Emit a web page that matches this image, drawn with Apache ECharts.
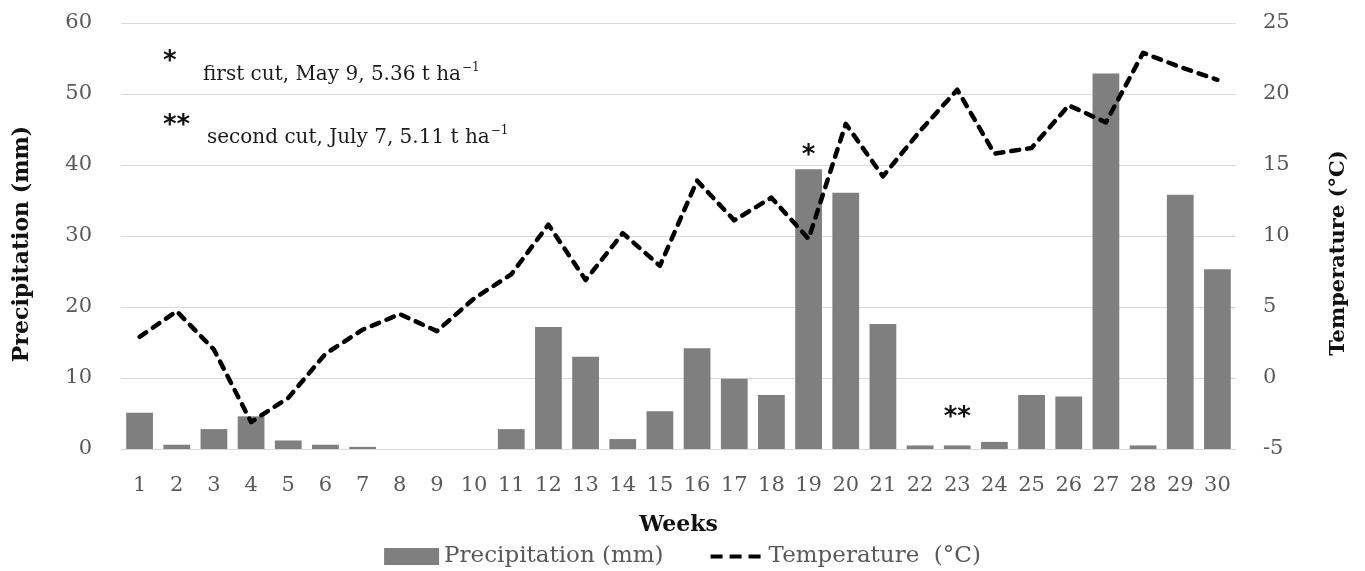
<!DOCTYPE html>
<html><head><meta charset="utf-8">
<script src="https://cdn.jsdelivr.net/npm/echarts@6/dist/echarts.min.js"></script>
<style>html,body{margin:0;padding:0;background:#fff}#c{width:1365px;height:571px}</style>
</head><body><div id="c"></div>
<script>
const weeks = ['1','2','3','4','5','6','7','8','9','10','11','12','13','14','15','16','17','18','19','20','21','22','23','24','25','26','27','28','29','30'];
const precipitation = [5.1,0.6,2.8,4.6,1.2,0.6,0.3,0,0,0,2.8,17.2,13.0,1.4,5.3,14.2,9.9,7.6,39.4,36.1,17.6,0.5,0.5,1.0,7.6,7.4,52.9,0.5,35.8,25.3];
const temperature = [2.9,4.7,2.0,-3.1,-1.4,1.7,3.4,4.5,3.3,5.6,7.3,10.8,6.9,10.2,7.9,13.9,11.1,12.7,9.8,17.9,14.2,17.4,20.3,15.8,16.2,19.2,18.0,22.9,21.9,21.0];
const cutMarks = {'19':'*','23':'**'};
const cutNotes = [
  {mark:'*', text:'first cut, May 9, 5.36 t ha', sup:'\u22121'},
  {mark:'**', text:'second cut, July 7, 5.11 t ha', sup:'\u22121'}
];
const precipTicks = {min:0, max:60, interval:10};
const tempTicks = {min:-5, max:25, interval:5};

const FONT = 'DejaVu Serif';
const chart = echarts.init(document.getElementById('c'));

const barData = precipitation.map((v,i)=>{
  const m = cutMarks[weeks[i]];
  if (!m) return v;
  return {value:v, label:{show:true, position:'top', formatter:m,
    distance: m==='**' ? 14 : 0,
    fontFamily:'DejaVu Sans', fontWeight:'bold', fontSize:26, color:'#111'}};
});

const noteY = [62, 126];
const graphics = [];
cutNotes.forEach((n,k)=>{
  graphics.push({type:'text', x:163, y:noteY[k], style:{text:n.mark, fontFamily:'DejaVu Sans', fontWeight:'bold', fontSize:26, fill:'#111', verticalAlign:'middle'}});
  graphics.push({type:'text', x: k===0?203:207, y:noteY[k]+ (k===0?13:12), style:{
    text:'{a|'+n.text+'}{s|'+n.sup+'}',
    verticalAlign:'middle',
    rich:{a:{fontFamily:FONT, fontSize:20, fill:'#1a1a1a'}, s:{fontFamily:FONT, fontSize:12, fill:'#1a1a1a', padding:[0,0,14,1]}}
  }});
});

const dashIcon = 'path://M0,0M55,17M2,6.5L14,6.5L14,10.5L2,10.5ZM21,6.5L33,6.5L33,10.5L21,10.5ZM40,6.5L52,6.5L52,10.5L40,10.5Z';

chart.setOption({
  animation:false,
  grid:{left:121, right:129, top:23, bottom:122},
  legend:{
    left:'center', bottom:-2, itemWidth:55, itemHeight:17, itemGap:45,
    textStyle:{fontFamily:FONT, fontSize:23, color:'#595959'},
    data:[
      {name:'Precipitation (mm)', icon:'rect'},
      {name:'Temperature  (\u00B0C)', icon:dashIcon, itemStyle:{color:'#000', borderWidth:0}}
    ]
  },
  xAxis:{
    type:'category', data:weeks, boundaryGap:true,
    axisLine:{lineStyle:{color:'#d9d9d9', width:1}}, axisTick:{show:false},
    axisLabel:{fontFamily:FONT, fontSize:21, color:'#595959', margin:26, interval:0},
    name:'Weeks', nameLocation:'middle', nameGap:65,
    nameTextStyle:{fontFamily:FONT, fontSize:22, fontWeight:'bold', color:'#111'}
  },
  yAxis:[
    {type:'value', min:precipTicks.min, max:precipTicks.max, interval:precipTicks.interval,
     axisLine:{show:false}, axisTick:{show:false},
     splitLine:{lineStyle:{color:'#d9d9d9', width:1}},
     axisLabel:{fontFamily:FONT, fontSize:21, color:'#595959', margin:29},
     name:'Precipitation (mm)', nameLocation:'middle', nameGap:88,
     nameTextStyle:{fontFamily:FONT, fontSize:22, fontWeight:'bold', color:'#111', padding:[0,16,0,0]}},
    {type:'value', min:tempTicks.min, max:tempTicks.max, interval:tempTicks.interval,
     axisLine:{show:false}, axisTick:{show:false}, splitLine:{show:false},
     axisLabel:{fontFamily:FONT, fontSize:21, color:'#595959', margin:27},
     name:'Temperature (\u00B0C)', nameLocation:'middle', nameGap:92,
     nameTextStyle:{fontFamily:FONT, fontSize:21, fontWeight:'bold', color:'#111', padding:[0,34,0,0]}}
  ],
  series:[
    {name:'Precipitation (mm)', type:'bar', data:barData, barCategoryGap:'28%',
     itemStyle:{color:'#7f7f7f'}},
    {name:'Temperature  (\u00B0C)', type:'line', yAxisIndex:1, data:temperature,
     symbol:'none', smooth:false,
     itemStyle:{color:'#000'},
     lineStyle:{color:'#000', width:4.5, type:[8,8], cap:'round', join:'round'}}
  ],
  graphic:graphics
});
</script></body></html>
